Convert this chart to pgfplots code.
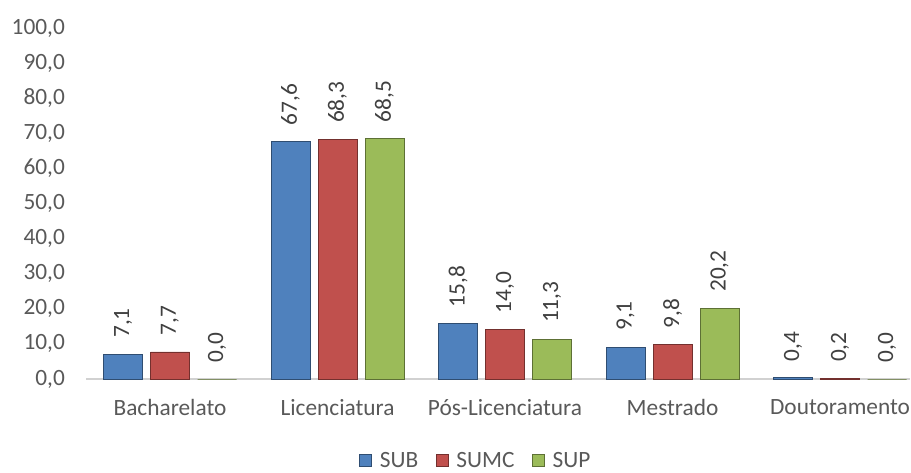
\documentclass[border=0pt]{standalone}
\usepackage{fontspec}
\setmainfont{Carlito}
\usepackage{pgfplots}
\pgfplotsset{compat=1.18}
\usetikzlibrary{calc}
\definecolor{cblue}{HTML}{4F81BD}
\definecolor{cred}{HTML}{C0504D}
\definecolor{cgreen}{HTML}{9BBB59}
\definecolor{tgray}{HTML}{595959}
\definecolor{lgray}{HTML}{404040}
\newcommand{\cf}{\fontsize{17.5}{20}\selectfont}
\begin{document}
\begin{tikzpicture}
\begin{axis}[
  scale only axis, width=618.1pt, height=263.25pt,
  ymin=0, ymax=100, xmin=-0.5, xmax=4.42,
  ybar=6pt, bar width=29.25pt,
  axis x line*=bottom, axis y line*=left,
  y axis line style={draw=none},
  x axis line style={draw=black!18, line width=1.5pt},
  major tick length=0pt,
  xtick={0,1,2,3,4},
  xticklabels={Bacharelato, Licenciatura, Pós-Licenciatura, Mestrado, Doutoramento},
  ytick={0,10,...,100},
  tick label style={font=\cf, text=tgray},
  yticklabel style={xshift=-12.5pt, /pgf/number format/.cd, fixed, fixed zerofill, precision=1, use comma, assume math mode=true},
  xticklabel style={yshift=-11.5pt},
  nodes near coords,
  nodes near coords style={font=\cf, text=lgray, yshift=11pt, rotate=90, anchor=west, inner sep=1pt,
    /pgf/number format/.cd, fixed, fixed zerofill, precision=1, use comma, assume math mode=true},
  legend columns=3,
  legend style={at={(0.473,-0.232)}, anchor=center, draw=none, fill=none, font=\cf, text=tgray,
    inner sep=0pt, /tikz/every even column/.append style={column sep=11pt}},
  legend image code/.code={\draw[#1] (0pt,-4.5pt) rectangle (9pt,4.5pt); \path (13pt,0pt);},
]
\addplot[fill=cblue, draw=cblue!60!black, line width=0.6pt] coordinates {(0,7.1) (1,67.6) (2,15.8) (3,9.1) (4,0.4)};
\addplot[fill=cred, draw=cred!60!black, line width=0.6pt] coordinates {(0,7.7) (1,68.3) (2,14.0) (3,9.8) (4,0.2)};
\addplot[fill=cgreen, draw=cgreen!60!black, line width=0.6pt] coordinates {(0,0.0) (1,68.5) (2,11.3) (3,20.2) (4,0.0)};
\legend{SUB, SUMC, SUP}
\coordinate (sw) at (rel axis cs:0,0);
\end{axis}
\pgfresetboundingbox
\path[use as bounding box] ($(sw)+(-64.69pt,-69.75pt)$) rectangle ($(sw)+(618.56pt,284.25pt)$);
\end{tikzpicture}
\end{document}
